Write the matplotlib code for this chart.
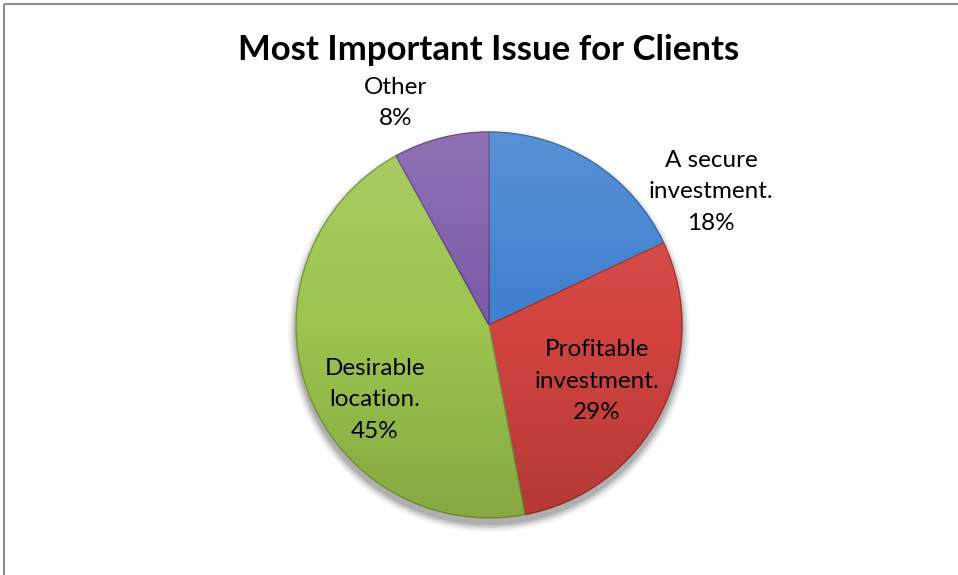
import numpy as np
import matplotlib
matplotlib.use('Agg')
import matplotlib.pyplot as plt
from matplotlib.patches import Rectangle, Circle

# Chart data
categories = ['A secure\ninvestment.', 'Profitable\ninvestment.', 'Desirable\nlocation.', 'Other']
shares = [18, 29, 45, 8]
colors = ['#3f7fcf', '#d2433f', '#9cc44e', '#7d5aa9']
edge_colors = ['#2d5f9e', '#a3302d', '#76963a', '#5c417f']

# label anchor points in pixel space (layout only)
label_pos = [(711, 192), (597, 381), (375, 400), (396, 103)]

W, H = 958, 575
fig = plt.figure(figsize=(W / 100, H / 100), dpi=100)
fig.patch.set_facecolor('white')
ax = fig.add_axes([0, 0, 1, 1])

cx, cy, r = 489, 325, 193

# soft drop shadow
for i, a in enumerate(np.linspace(0.10, 0.02, 6)):
    ax.add_patch(Circle((cx, cy + 6), r + 1 + i * 1.5, facecolor='black', alpha=a, edgecolor='none', zorder=1))

# y axis is inverted, so counterclock=True draws clockwise on screen and startangle=-90 is the top
wedges, _ = ax.pie(shares, colors=colors, startangle=-90, counterclock=True,
                   center=(cx, cy), radius=r, frame=True,
                   wedgeprops=dict(linewidth=1.0))
for w, ec in zip(wedges, edge_colors):
    w.set_edgecolor(ec)
    w.set_zorder(2)

# vertical shading over the pie (light top, darker bottom)
yy = np.linspace(0, 1, 256)[:, None] * np.ones((1, 4))
grad = np.zeros((256, 4, 4))
grad[..., :3] = np.where(yy[..., None] < 0.5, 1.0, 0.0)
grad[..., 3] = np.abs(yy - 0.5) * 0.28
im = ax.imshow(grad, extent=(cx - r, cx + r, cy + r, cy - r), zorder=3, aspect='auto')
im.set_clip_path(Circle((cx, cy), r, transform=ax.transData))

ax.set_xlim(0, W)
ax.set_ylim(H, 0)
ax.set_aspect('equal')
ax.axis('off')

# chart frame (only top/left visible in the crop)
ax.add_patch(Rectangle((4, 4), W + 50, H + 50, fill=False, edgecolor='#8c8c8c', linewidth=1.5, zorder=0))

font = 'Lato'
for name, pct, (px, py) in zip(categories, shares, label_pos):
    ax.text(px, py, f'{name}\n{pct}%', ha='center', va='center', fontsize=17.5,
            family=font, linespacing=1.6, color='black', zorder=5)

ax.text(489, 50, 'Most Important Issue for Clients', ha='center', va='center',
        fontsize=25, fontweight='bold', family=font, color='black', zorder=5)

fig.savefig('out.png', dpi=100, facecolor='white')
